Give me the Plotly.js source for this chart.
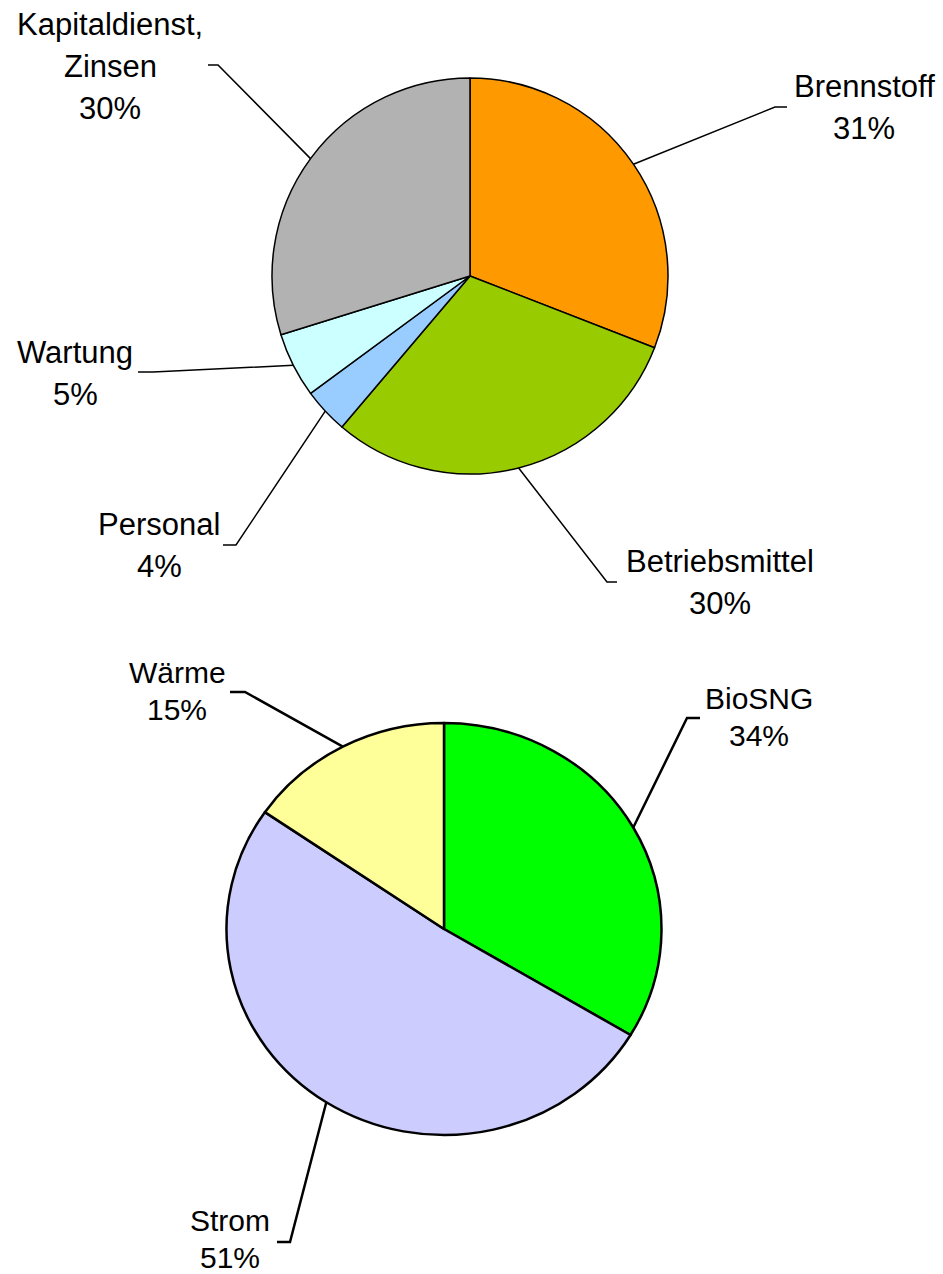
<!DOCTYPE html>
<html>
<head>
<meta charset="utf-8">
<script src="https://cdn.plot.ly/plotly-3.0.1.min.js"></script>
<style>html,body{margin:0;padding:0;background:#fff;}#chart{width:943px;height:1274px;}</style>
</head>
<body>
<div id="chart"></div>
<script>
// ---- data ----
const costLabels = ["Brennstoff", "Betriebsmittel", "Personal", "Wartung", "Kapitaldienst,<br>Zinsen"];
const costValues = [30.9, 30.3, 3.7, 5.3, 29.8];
const costColors = ["#FF9900", "#99CC00", "#99CCFF", "#CCFFFF", "#B2B2B2"];

const prodLabels = ["BioSNG", "Strom", "Wärme"];
const prodValues = [33.6, 51.0, 15.4];
const prodColors = ["#00FF00", "#CCCCFF", "#FFFF99"];

// ---- layout config (pixels) ----
const W = 943, H = 1274;
const pie1 = {cx: 470, cy: 276, rx: 198, ry: 198, lw: 1.5, font: 31, gap: 42};
const pie2 = {cx: 444, cy: 929, rx: 217.5, ry: 206, lw: 2.5, font: 30, gap: 37};
// label: x centre, y centre of first text line, elbow point, end of horizontal tick
const pie1Labels = [
  {x: 864, y: 86.5,  e: [775, 107], h: [787, 107]},
  {x: 720, y: 561.5, e: [607, 582], h: [617, 582]},
  {x: 159, y: 524.5, e: [236, 545], h: [223, 545]},
  {x: 75,  y: 352.5, e: [153, 372], h: [138, 372]},
  {x: 110, y: 24.5,  e: [218, 65],  h: [208, 65]}
];
const pie2Labels = [
  {x: 759, y: 698.5,  e: [687, 718],  h: [700, 718]},
  {x: 230, y: 1220.5, e: [290, 1242], h: [277, 1242]},
  {x: 177, y: 672.5,  e: [245, 692],  h: [230, 692]}
];

const fx = x => x / W;
const fy = y => 1 - y / H;
const FAMILY = "Liberation Sans, Arial, sans-serif";

function domainFor(p) {
  const r = p.ry;
  return {
    x: [fx(p.cx - r), fx(p.cx + r)],
    y: [fy(p.cy + r), fy(p.cy - r)]
  };
}

const annotations = [];
const shapes = [];
function addLabels(labels, values, p, cfg) {
  const total = values.reduce((a, b) => a + b, 0);
  let cum = 0;
  values.forEach((v, i) => {
    const mid = (cum + v / 2) / total * 2 * Math.PI;
    cum += v;
    const sx = p.cx + p.rx * Math.sin(mid);
    const sy = p.cy - p.ry * Math.cos(mid);
    const L = cfg[i];
    shapes.push({
      type: "path", xref: "paper", yref: "paper",
      path: `M${fx(sx)},${fy(sy)} L${fx(L.e[0])},${fy(L.e[1])} L${fx(L.h[0])},${fy(L.h[1])}`,
      line: {color: "#000", width: p.lw}
    });
    const lines = labels[i].split("<br>").concat([Math.round(v / total * 100) + "%"]);
    lines.forEach((t, k) => {
      annotations.push({
        xref: "paper", yref: "paper", x: fx(L.x), y: fy(L.y + k * p.gap),
        xanchor: "center", yanchor: "middle", showarrow: false,
        text: t,
        font: {family: FAMILY, size: p.font, color: "#000"}
      });
    });
  });
}
addLabels(costLabels, costValues, pie1, pie1Labels);
addLabels(prodLabels, prodValues, pie2, pie2Labels);

const data = [
  {
    type: "pie", labels: costLabels, values: costValues, sort: false,
    direction: "clockwise", rotation: 0, textinfo: "none", hoverinfo: "none",
    marker: {colors: costColors, line: {color: "#000", width: pie1.lw}},
    domain: domainFor(pie1)
  },
  {
    type: "pie", labels: prodLabels, values: prodValues, sort: false,
    direction: "clockwise", rotation: 0, textinfo: "none", hoverinfo: "none",
    marker: {colors: prodColors, line: {color: "#000", width: pie2.lw}},
    domain: domainFor(pie2)
  }
];

const layout = {
  width: W, height: H,
  margin: {l: 0, r: 0, t: 0, b: 0},
  paper_bgcolor: "#fff", plot_bgcolor: "#fff",
  showlegend: false,
  annotations: annotations,
  shapes: shapes
};

Plotly.newPlot("chart", data, layout, {displayModeBar: false, staticPlot: true}).then(gd => {
  // stretch the second pie horizontally to its elliptical shape
  const traces = gd.querySelectorAll(".pielayer .trace");
  if (traces.length > 1) {
    const s = pie2.rx / pie2.ry;
    traces[1].setAttribute("transform",
      `translate(${pie2.cx},0) scale(${s},1) translate(${-pie2.cx},0)`);
    traces[1].querySelectorAll("path").forEach(p => p.setAttribute("vector-effect", "non-scaling-stroke"));
  }
});
</script>
</body>
</html>
